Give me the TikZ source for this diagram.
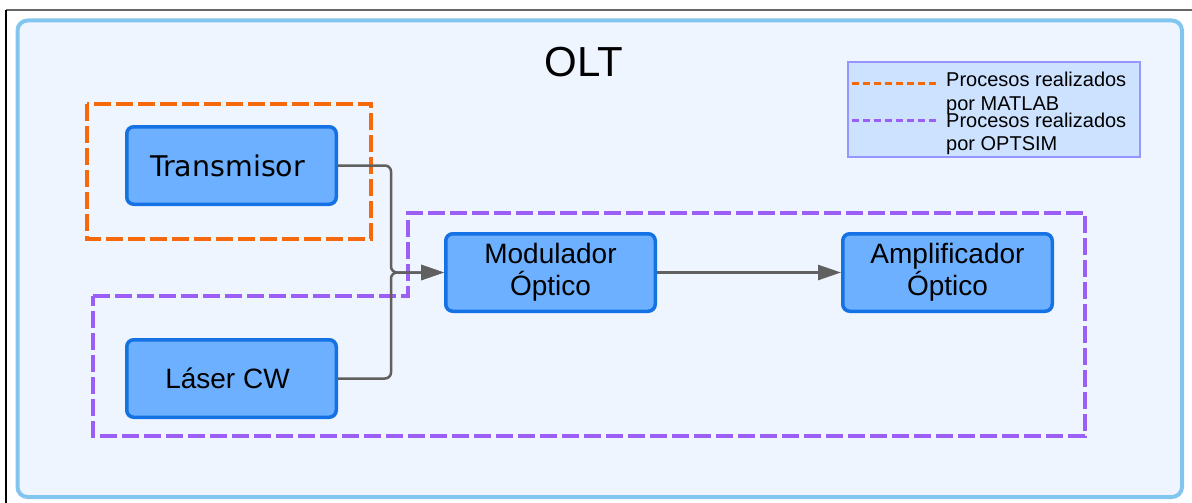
\documentclass[tikz,border=0pt]{standalone}
\usepackage{fontspec}
\setmainfont{Liberation Sans}
\newfontfamily\dvsans{DejaVu Sans}
\usetikzlibrary{arrows.meta}
\definecolor{bgblue}{RGB}{238,245,255}
\definecolor{bgline}{RGB}{130,198,240}
\definecolor{blkfill}{RGB}{108,176,255}
\definecolor{blkline}{RGB}{20,114,228}
\definecolor{matlab}{RGB}{245,105,10}
\definecolor{optsim}{RGB}{155,95,245}
\definecolor{legfill}{RGB}{204,226,255}
\definecolor{legline}{RGB}{150,150,255}
\definecolor{conngray}{RGB}{96,96,96}
\tikzset{
  blk/.style={draw=blkline, fill=blkfill, line width=3.5pt, rounded corners=7pt,
    minimum width=209.5pt, minimum height=77.5pt, align=center,
    font=\fontsize{28}{32}\selectfont},
  conn/.style={draw=conngray, line width=2.5pt, rounded corners=6pt,
    -{Triangle[length=23pt,width=15pt]}},
  legtxt/.style={anchor=west, inner sep=0pt, align=left,
    font=\fontsize{20}{23.5}\selectfont}
}

\begin{document}
\begin{tikzpicture}[x=1pt, y=-1pt]
\useasboundingbox (0,0) rectangle (1192,503);
\draw[line width=2pt, gray!80!black] (6,10) -- (1194,10);
\draw[line width=1.5pt, black] (6,10) -- (6,505);
\draw[draw=bgline, fill=bgblue, line width=4pt, rounded corners=10pt] (17.5,20.5) rectangle (1182,497);
\node[anchor=base, font=\fontsize{42}{48}\selectfont] at (584,77) (olt) {OLT};
% areas
\draw[matlab, line width=4pt, dash pattern=on 17pt off 5pt] (87,104) rectangle (371,239);
\draw[optsim, line width=4pt, dash pattern=on 17pt off 5pt] (93,296) -- (408,296) -- (408,213) -- (1085,213) -- (1085,436) -- (93,436) -- cycle;
% blocks
\node[blk, font=\dvsans\fontsize{28.5}{32}\selectfont] at (231.5,165.5) (tx) {Transmisor\hspace*{8pt}};
\node[blk] at (231.5,378.5) (laser) {Láser CW\hspace*{8pt}};
\node[blk] at (550.5,272.5) (mod) {Modulador\\Óptico};
\node[blk] at (947.5,272.5) (amp) {Amplificador\\Óptico};
\coordinate (jn) at (391,272.5);
\draw[conn] (tx.east) -| (jn) -- (mod.west);
\draw[conn] (laser.east) -| (jn) -- (mod.west);
\draw[conn] (mod.east) -- (amp.west);
% legend
\node[draw=legline, fill=legfill, line width=2pt, minimum width=292pt, minimum height=95pt] at (993.5,109.5) (leg) {};
\draw[matlab, line width=3pt, dash pattern=on 7pt off 4pt] (852,84) -- (936,84);
\draw[optsim, line width=3pt, dash pattern=on 7pt off 4pt] (852,120) -- (936,120);
\node[legtxt] at (946,93.5) (legm) {Procesos realizados\\por MATLAB};
\node[legtxt] at (946,134) (lego) {Procesos realizados\\por OPTSIM};
\end{tikzpicture}
\end{document}
